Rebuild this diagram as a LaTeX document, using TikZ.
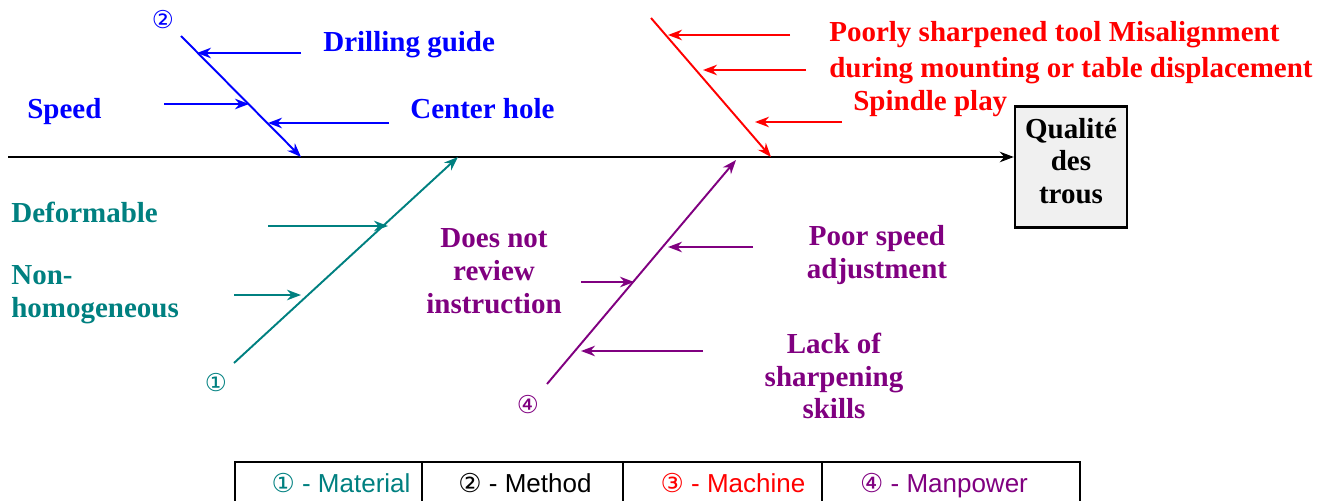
\documentclass[tikz,border=0pt]{standalone}
\usepackage{fontspec}
\setmainfont{Liberation Serif}
\setsansfont{Liberation Sans}
\newfontfamily\circfont{DejaVu Sans}
\usetikzlibrary{arrows.meta, positioning}
\definecolor{ishblue}{RGB}{0, 0, 255}
\definecolor{ishred}{RGB}{255, 0, 0}
\definecolor{ishteal}{RGB}{0, 128, 128}
\definecolor{ishpurple}{RGB}{128, 0, 128}

\tikzset{
    bone/.style={line width=1.1pt, -{Stealth[length=8pt, width=6pt]}},
    rib/.style={line width=1.1pt, -{Stealth[length=8pt, width=6pt]}},
    cause/.style={font=\bfseries\fontsize{16.5pt}{18.7pt}\selectfont, align=center, inner sep=0pt},
    tag/.style={font=\circfont\fontsize{14pt}{16pt}\selectfont, inner sep=0pt},
    legend/.style={font=\sffamily\fontsize{14.8pt}{16pt}\selectfont, inner sep=0pt, anchor=base}
}

\begin{document}
\begin{tikzpicture}[x=0.02cm, y=-0.02cm, >=Stealth]
    \useasboundingbox (0,0) rectangle (1324,500);
    \clip (0,0) rectangle (1324,500);

    % effect box and spine
    \node[draw, line width=1.4pt, fill=gray!12, minimum width=2.24cm, minimum height=2.42cm,
          inner sep=0pt] (effect) at (1071,167) {};
    \node[cause] (effectlbl) at (1071,161) {Qualit\'e\\des\\trous};
    \coordinate (tail) at (8,157);
    \draw[bone, black] (tail) -- (effect.west |- tail);

    % method (blue)
    \coordinate (m0) at (181,36);
    \coordinate (m1) at (301,157);
    \draw[bone, ishblue] (m0) -- (m1);
    \node[tag, text=ishblue] (tagm) at (163,20) {②};
    \coordinate (ma) at (301,53);  \coordinate (mb) at (197,53);
    \coordinate (mc) at (164,104); \coordinate (md) at (249,104);
    \coordinate (me) at (389,123); \coordinate (mf) at (268,123);
    \draw[rib, ishblue] (ma) -- (mb);
    \draw[rib, ishblue] (mc) -- (md);
    \draw[rib, ishblue] (me) -- (mf);
    \node[cause, text=ishblue, anchor=base west] (guide) at (323,52) {Drilling guide};
    \node[cause, text=ishblue, anchor=base west] (speed) at (27,118) {Speed};
    \node[cause, text=ishblue, anchor=base west] (hole) at (410,118) {Center hole};

    % machine (red)
    \coordinate (c0) at (651,18);
    \coordinate (c1) at (771,157);
    \draw[bone, ishred] (c0) -- (c1);
    \coordinate (ca) at (790,35);  \coordinate (cb) at (668,35);
    \coordinate (cc) at (806,70);  \coordinate (cd) at (703,70);
    \coordinate (ce) at (842,122); \coordinate (cf) at (755,122);
    \draw[rib, ishred] (ca) -- (cb);
    \draw[rib, ishred] (cc) -- (cd);
    \draw[rib, ishred] (ce) -- (cf);
    \node[cause, text=ishred, anchor=base west] (tool) at (829,42) {Poorly sharpened tool Misalignment};
    \node[cause, text=ishred, anchor=base west] (mount) at (829,78) {during mounting or table displacement};
    \node[cause, text=ishred, anchor=base west] (spindle) at (853,111) {Spindle play};

    % material (teal)
    \coordinate (t0) at (234,363);
    \coordinate (t1) at (458,157);
    \draw[bone, ishteal] (t0) -- (t1);
    \node[tag, text=ishteal] (tagt) at (216,383) {①};
    \coordinate (ta) at (268,226); \coordinate (tb) at (388,226);
    \coordinate (tc) at (234,295); \coordinate (td) at (301,295);
    \draw[rib, ishteal] (ta) -- (tb);
    \draw[rib, ishteal] (tc) -- (td);
    \node[cause, text=ishteal, anchor=base west] (deform) at (11,222) {Deformable};
    \node[cause, text=ishteal, align=left, anchor=west] (nonhom) at (11,295) {Non-\\homogeneous};

    % manpower (purple)
    \coordinate (p0) at (547,384);
    \coordinate (p1) at (736,160);
    \draw[bone, ishpurple] (p0) -- (p1);
    \node[tag, text=ishpurple] (tagp) at (528,405) {④};
    \coordinate (pa) at (753,247); \coordinate (pb) at (668,247);
    \coordinate (pc) at (581,282); \coordinate (pd) at (634,282);
    \coordinate (pe) at (703,351); \coordinate (pf) at (581,351);
    \draw[rib, ishpurple] (pa) -- (pb);
    \draw[rib, ishpurple] (pc) -- (pd);
    \draw[rib, ishpurple] (pe) -- (pf);
    \node[cause, text=ishpurple] (review) at (494,271) {Does not\\review\\instruction};
    \node[cause, text=ishpurple] (adjust) at (877,255) {Poor speed\\adjustment};
    \node[cause, text=ishpurple] (skills) at (834,376) {Lack of\\sharpening\\skills};

    % legend
    \draw[line width=0.9pt] (235,462) rectangle (1080,520);
    \foreach \x in {422,623,822} \draw[line width=0.9pt] (\x,462) -- (\x,520);
    \node[legend, text=ishteal] (lgt) at (341,492) {{\circfont ①} - Material};
    \node[legend] (lgm) at (525,492) {{\circfont ②} - Method};
    \node[legend, text=ishred] (lgc) at (733,492) {{\circfont ③} - Machine};
    \node[legend, text=ishpurple] (lgp) at (944,492) {{\circfont ④} - Manpower};
\end{tikzpicture}
\end{document}
